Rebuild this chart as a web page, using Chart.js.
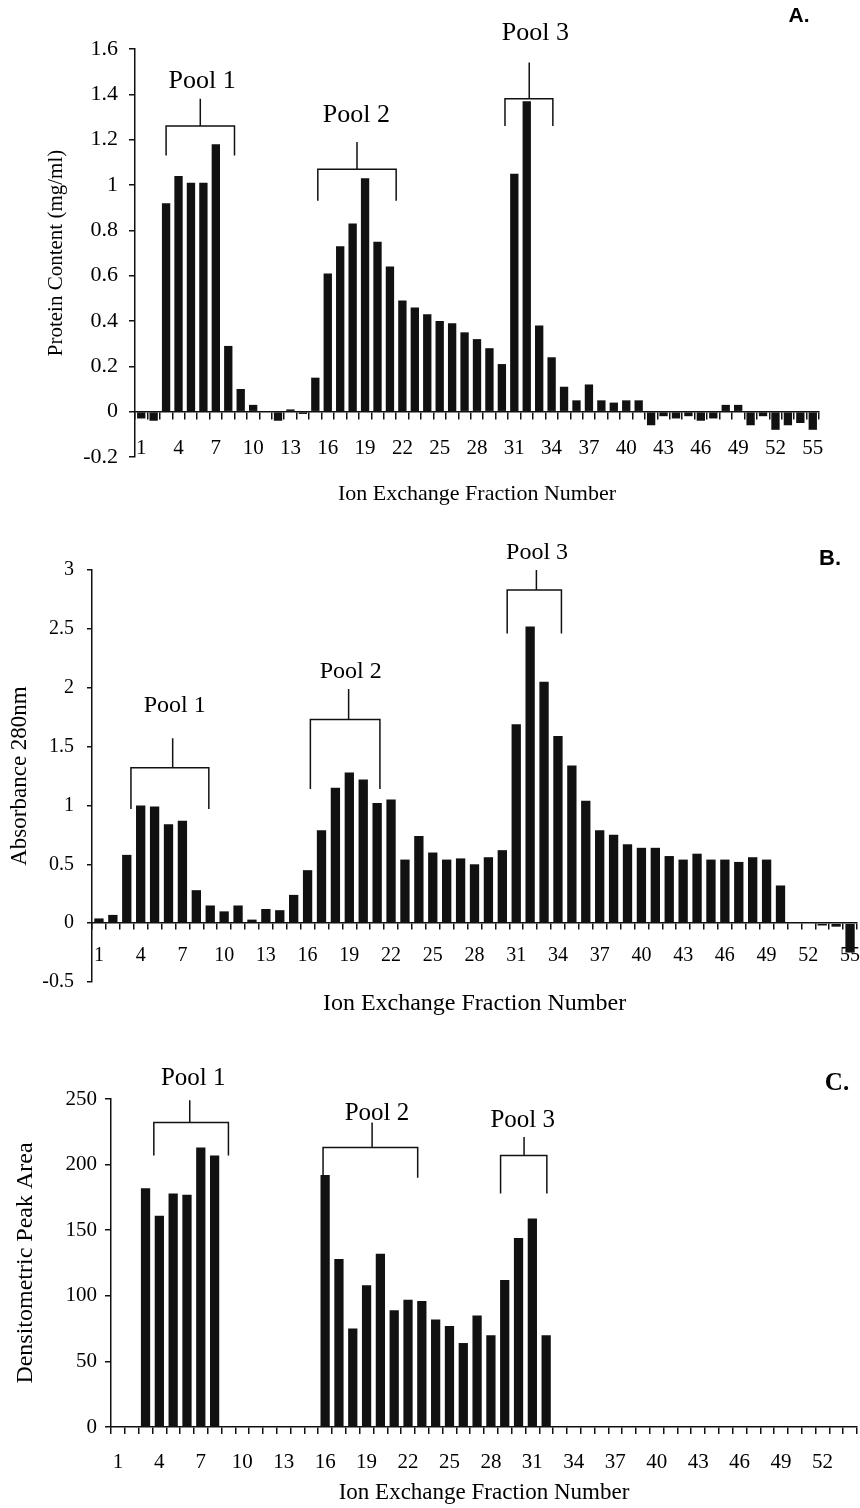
<!DOCTYPE html>
<html>
<head>
<meta charset="utf-8">
<script src="https://cdn.jsdelivr.net/npm/chart.js@4.4.1/dist/chart.umd.min.js"></script>
<style>
  body { margin: 0; background: #fff; width: 860px; height: 1508px; overflow: hidden; }
  .panel { position: absolute; left: 0; width: 860px; }
</style>
</head>
<body>
<div class="panel" style="top:0;height:520px"><canvas id="chartA" width="860" height="520"></canvas></div>
<div class="panel" style="top:520px;height:510px"><canvas id="chartB" width="860" height="510"></canvas></div>
<div class="panel" style="top:1030px;height:478px"><canvas id="chartC" width="860" height="478"></canvas></div>
<script>
// fraction numbers on the category axis
const fractions = [1,2,3,4,5,6,7,8,9,10,11,12,13,14,15,16,17,18,19,20,21,22,23,24,25,26,27,28,29,30,
  31,32,33,34,35,36,37,38,39,40,41,42,43,44,45,46,47,48,49,50,51,52,53,54,55];
const xTickFractions = [1,4,7,10,13,16,19,22,25,28,31,34,37,40,43,46,49,52,55];

// A. protein content (mg/ml)
const proteinA = [-0.03,-0.04,0.92,1.04,1.01,1.01,1.18,0.29,0.10,0.03,0,-0.04,0.01,-0.01,0.15,
  0.61,0.73,0.83,1.03,0.75,0.64,0.49,0.46,0.43,0.40,0.39,0.35,0.32,0.28,0.21,
  1.05,1.37,0.38,0.24,0.11,0.05,0.12,0.05,0.04,0.05,0.05,-0.06,-0.02,-0.03,-0.02,
  -0.04,-0.03,0.03,0.03,-0.06,-0.02,-0.08,-0.06,-0.05,-0.08];

// B. absorbance at 280 nm
const absorbanceB = [0.04,0.07,0.58,1.00,0.99,0.84,0.87,0.28,0.15,0.10,0.15,0.03,0.12,0.11,0.24,
  0.45,0.79,1.15,1.28,1.22,1.02,1.05,0.54,0.74,0.60,0.54,0.55,0.50,0.56,0.62,
  1.69,2.52,2.05,1.59,1.34,1.04,0.79,0.75,0.67,0.64,0.64,0.57,0.54,0.59,0.54,
  0.54,0.52,0.56,0.54,0.32,0,0,-0.02,-0.03,-0.25];

// C. densitometric peak area (fractions 1-54)
const peakAreaC = [0,0,182,161,178,177,213,207,0,0,0,0,0,0,0,
  192,128,75,108,132,89,97,96,82,77,64,85,70,112,144,
  159,70,0,0,0,0,0,0,0,0,0,0,0,0,0,
  0,0,0,0,0,0,0,0,0];

const yTicksA = [-0.2,0,0.2,0.4,0.6,0.8,1,1.2,1.4,1.6];
const yTicksB = [-0.5,0,0.5,1,1.5,2,2.5,3];
const yTicksC = [0,50,100,150,200,250];

const poolNames = ['Pool 1', 'Pool 2', 'Pool 3'];

// bracket geometry in data units (fraction number / y value)
const poolsA = [
  {from: 3.0, to: 8.5, stem: 5.75, bar: 1.26, legs: 1.13, stemTop: 1.38, labelX: 5.9, labelY: 1.46},
  {from: 15.2, to: 21.5, stem: 18.35, bar: 1.07, legs: 0.93, stemTop: 1.19, labelX: 18.3, labelY: 1.31},
  {from: 30.25, to: 34.1, stem: 32.2, bar: 1.38, legs: 1.26, stemTop: 1.54, labelX: 32.7, labelY: 1.67}
];
const poolsB = [
  {from: 3.3, to: 8.9, stem: 6.3, bar: 1.32, legs: 0.97, stemTop: 1.57, labelX: 6.45, labelY: 1.85},
  {from: 16.2, to: 21.2, stem: 18.95, bar: 1.73, legs: 1.14, stemTop: 1.99, labelX: 19.1, labelY: 2.14},
  {from: 30.35, to: 34.25, stem: 32.45, bar: 2.83, legs: 2.46, stemTop: 3.0, labelX: 32.5, labelY: 3.15}
];
const poolsC = [
  {from: 3.6, to: 9.0, stem: 6.2, bar: 232, legs: 207, stemTop: 249, labelX: 6.45, labelY: 266},
  {from: 15.85, to: 22.7, stem: 19.4, bar: 213, legs: 190, stemTop: 232, labelX: 19.75, labelY: 239},
  {from: 28.7, to: 32.05, stem: 30.4, bar: 207, legs: 178, stemTop: 221, labelX: 30.3, labelY: 234}
];

Chart.defaults.font.family = '"Liberation Serif", "Times New Roman", serif';
Chart.defaults.color = '#000';
Chart.defaults.animation = false;

const ink = '#111';

const poolPlugin = {
  id: 'pools',
  afterDraw(chart, args, opts) {
    const ctx = chart.ctx;
    const xs = chart.scales.x, ys = chart.scales.y;
    ctx.save();
    ctx.strokeStyle = ink;
    ctx.lineWidth = 1.5;
    ctx.fillStyle = '#000';
    ctx.textAlign = 'center';
    ctx.textBaseline = 'middle';
    ctx.font = opts.font;
    opts.pools.forEach((p, i) => {
      const x1 = xs.getPixelForValue(p.from - 1);
      const x2 = xs.getPixelForValue(p.to - 1);
      const xm = xs.getPixelForValue(p.stem - 1);
      const yb = ys.getPixelForValue(p.bar);
      const yl = ys.getPixelForValue(p.legs);
      const yt = ys.getPixelForValue(p.stemTop);
      ctx.beginPath();
      ctx.moveTo(x1, yl); ctx.lineTo(x1, yb); ctx.lineTo(x2, yb); ctx.lineTo(x2, yl);
      ctx.moveTo(xm, yb); ctx.lineTo(xm, yt);
      ctx.stroke();
      ctx.fillText(poolNames[i], xs.getPixelForValue(p.labelX - 1), ys.getPixelForValue(p.labelY));
    });
    ctx.font = opts.tagFont;
    ctx.fillText(opts.tag, opts.tagX, opts.tagY);
    ctx.restore();
  }
};

function tickLabel(value) {
  const f = this.getLabelForValue(value);
  return xTickFractions.includes(f) ? String(f) : '';
}

// fixed band height, and no extra side padding for the outer labels
function fitX(height) {
  return s => { s.height = height; s.paddingLeft = 0; s.paddingRight = 0; };
}

function makeChart(id, values, labels, cfg) {
  const scales = {
    y: {
      min: cfg.yMin, max: cfg.yMax,
      afterBuildTicks: s => { s.ticks = cfg.yTicks.map(v => ({ value: v })); },
      afterFit: s => { s.width = cfg.yWidth; },
      ticks: { font: { size: cfg.yTickSize }, padding: cfg.yTickPad, callback: v => String(v) },
      grid: { drawOnChartArea: false, tickLength: cfg.yTickLen, color: ink, lineWidth: 1.5 },
      border: { color: ink, width: 1.5 },
      title: { display: true, text: cfg.yTitle, font: { size: cfg.yTitleSize }, padding: { top: cfg.yTitlePad, bottom: 0 } }
    }
  };
  const xTitle = { display: true, text: 'Ion Exchange Fraction Number', font: { size: cfg.xTitleSize }, padding: { top: 0, bottom: cfg.xTitlePad } };
  if (cfg.zeroAxis) {
    // axis line with tick marks sits at y = 0, labels stay low
    scales.x = {
      position: { y: 0 }, offset: true,
      grid: { offset: true, drawOnChartArea: false, tickLength: cfg.xTickLen, color: ink, lineWidth: 1.5 },
      border: { color: ink, width: 1.5 },
      ticks: { display: false, autoSkip: false }
    };
    scales.x2 = {
      type: 'category', position: 'bottom', offset: true,
      grid: { display: false, drawTicks: false },
      border: { display: false },
      ticks: { mirror: true, autoSkip: false, maxRotation: 0, font: { size: cfg.xTickSize }, padding: cfg.xTickPad, callback: tickLabel },
      title: xTitle,
      afterFit: fitX(cfg.xHeight)
    };
  } else {
    scales.x = {
      position: 'bottom', offset: true,
      grid: { offset: true, drawOnChartArea: false, tickLength: cfg.xTickLen, color: ink, lineWidth: 1.5 },
      border: { color: ink, width: 1.5 },
      ticks: { autoSkip: false, maxRotation: 0, font: { size: cfg.xTickSize }, padding: cfg.xTickPad, callback: tickLabel },
      title: xTitle,
      afterFit: fitX(cfg.xHeight)
    };
  }
  return new Chart(document.getElementById(id), {
    type: 'bar',
    data: {
      labels: labels,
      datasets: [{ data: values, backgroundColor: ink, borderWidth: 0, barPercentage: 0.67, categoryPercentage: 1 }]
    },
    options: {
      responsive: false,
      layout: { padding: { top: cfg.padTop, right: cfg.padRight, left: 0, bottom: 0 } },
      plugins: {
        legend: { display: false },
        tooltip: { enabled: false },
        pools: { pools: cfg.pools, font: cfg.poolFont, tag: cfg.tag, tagFont: cfg.tagFont, tagX: cfg.tagX, tagY: cfg.tagY }
      },
      scales: scales
    },
    plugins: [poolPlugin]
  });
}

makeChart('chartA', proteinA, fractions, {
  zeroAxis: true, yMin: -0.2, yMax: 1.6, yTicks: yTicksA,
  yWidth: 135, yTickSize: 22, yTickPad: 11, yTickLen: 6,
  yTitle: 'Protein Content (mg/ml)', yTitleSize: 21, yTitlePad: 44,
  xTickLen: 7, xTickSize: 21, xTickPad: -4, xTitleSize: 22, xTitlePad: 13, xHeight: 63,
  padTop: 49, padRight: 41,
  pools: poolsA, poolFont: '26px "Liberation Serif", serif',
  tag: 'A.', tagFont: 'bold 21px "Liberation Sans", Arial, sans-serif', tagX: 799, tagY: 16
});

makeChart('chartB', absorbanceB, fractions, {
  zeroAxis: true, yMin: -0.5, yMax: 3, yTicks: yTicksB,
  yWidth: 92, yTickSize: 20, yTickPad: 13, yTickLen: 5,
  yTitle: 'Absorbance 280nm', yTitleSize: 23, yTitlePad: 6,
  xTickLen: 6, xTickSize: 20, xTickPad: 14, xTitleSize: 24, xTitlePad: 12, xHeight: 48,
  padTop: 50, padRight: 3,
  pools: poolsB, poolFont: '24px "Liberation Serif", serif',
  tag: 'B.', tagFont: 'bold 22px "Liberation Sans", Arial, sans-serif', tagX: 830, tagY: 39
});

makeChart('chartC', peakAreaC, fractions.slice(0, 54), {
  zeroAxis: false, yMin: 0, yMax: 250, yTicks: yTicksC,
  yWidth: 111, yTickSize: 21, yTickPad: 8, yTickLen: 6,
  yTitle: 'Densitometric Peak Area', yTitleSize: 24, yTitlePad: 11,
  xTickLen: 7, xTickSize: 21, xTickPad: 16, xTitleSize: 23, xTitlePad: 1, xHeight: 81,
  padTop: 69, padRight: 3,
  pools: poolsC, poolFont: '25px "Liberation Serif", serif',
  tag: 'C.', tagFont: 'bold 25px "Liberation Serif", serif', tagX: 837, tagY: 54
});
</script>
</body>
</html>
